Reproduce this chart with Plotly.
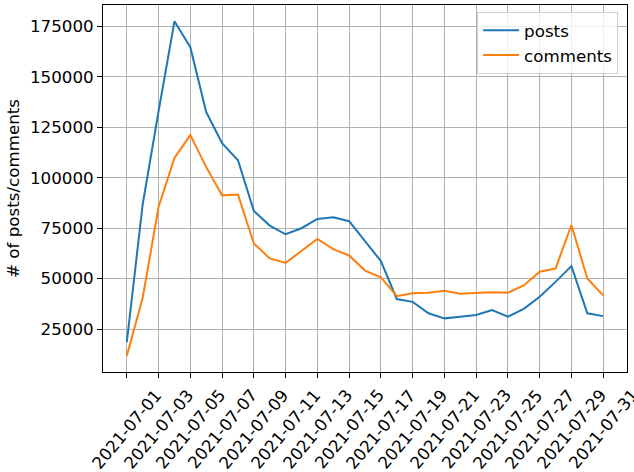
import plotly.graph_objects as go
import pandas as pd

dates = pd.date_range("2021-07-01", "2021-07-31", freq="D").strftime("%Y-%m-%d").tolist()

posts = [18500, 86900, 133000, 177600, 164800, 132600, 117200, 108700, 83600, 76300,
         72000, 75000, 79600, 80400, 78500, 68600, 58700, 39900, 38500, 32800,
         30300, 31100, 32000, 34400, 31100, 35000, 41000, 48400, 56200, 32800, 31400]

comments = [11700, 40500, 85500, 109800, 121200, 105300, 91300, 91700, 67400, 60000,
            57800, 63600, 69700, 64600, 61500, 54000, 50700, 41300, 42700, 43000,
            44000, 42500, 42800, 43300, 43000, 46600, 53400, 55000, 76600, 50100, 41700]

tick_dates = dates[::2]
y_ticks = [25000, 50000, 75000, 100000, 125000, 150000, 175000]

fig = go.Figure()
fig.add_trace(go.Scatter(x=dates, y=posts, mode="lines", name="posts",
                         line=dict(color="#1f77b4", width=2)))
fig.add_trace(go.Scatter(x=dates, y=comments, mode="lines", name="comments",
                         line=dict(color="#ff7f0e", width=2)))

font = dict(family="DejaVu Sans", size=16.7, color="black")

# rotated x tick labels, centred on the tick like the reference
for d in tick_dates:
    fig.add_annotation(x=d, xref="x", y=0, yref="paper", text=d,
                       showarrow=False, textangle=-50, xanchor="center",
                       yanchor="top", yshift=-12, borderpad=0, font=font)

fig.update_layout(
    width=634, height=472,
    margin=dict(l=103, r=7, t=5, b=100),
    paper_bgcolor="white", plot_bgcolor="white",
    font=font,
    showlegend=True,
    legend=dict(x=0.983, y=0.981, xanchor="right", yanchor="top",
                bgcolor="rgba(255,255,255,0.8)", bordercolor="#d0d0d0", borderwidth=1,
                font=font, tracegroupgap=0, itemwidth=36),
)

fig.update_xaxes(
    type="date",
    range=["2021-06-29 12:00", "2021-08-01 12:00"],
    tickmode="array", tickvals=tick_dates, showticklabels=False,
    showgrid=True, gridcolor="#b0b0b0", gridwidth=1,
    showline=True, linecolor="black", linewidth=1, mirror=True,
    ticks="outside", ticklen=5, tickcolor="black",
    zeroline=False, automargin=False,
)
fig.update_yaxes(
    range=[3700, 185700],
    tickmode="array", tickvals=y_ticks, ticktext=[str(v) for v in y_ticks],
    showgrid=True, gridcolor="#b0b0b0", gridwidth=1,
    showline=True, linecolor="black", linewidth=1, mirror=True,
    ticks="outside", ticklen=5, tickcolor="black",
    tickfont=font, zeroline=False, automargin=False,
    title=dict(text="# of posts/comments", font=font, standoff=6),
)

fig.write_html("out.html", config={"displayModeBar": False})

# remove the browser's default page margin so the figure sits at the top-left corner
with open("out.html", encoding="utf-8") as f:
    html = f.read()
html = html.replace("<head>", "<head><style>html,body{margin:0;padding:0;overflow:hidden}</style>", 1)
with open("out.html", "w", encoding="utf-8") as f:
    f.write(html)
